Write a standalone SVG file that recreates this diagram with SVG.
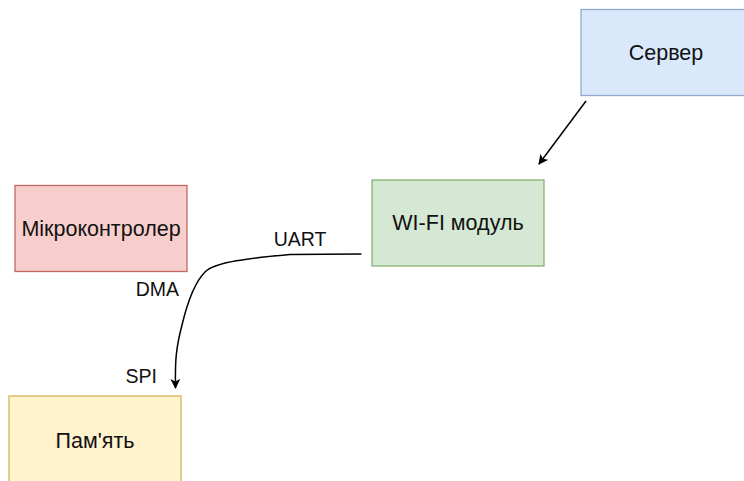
<svg xmlns="http://www.w3.org/2000/svg" width="744" height="481" viewBox="0 0 744 481">
  <style>
    .box { stroke-width: 1.3; }
    .label { font-family: "Liberation Sans", Arial, sans-serif; font-size: 21.5px; fill: #111; text-anchor: middle; dominant-baseline: central; }
    .edge-label { font-family: "Liberation Sans", Arial, sans-serif; font-size: 19.5px; fill: #111; }
    .edge { fill: none; stroke: #000; stroke-width: 1.5; }
  </style>
  <defs>
    <marker id="arrow" viewBox="0 0 10 10" refX="9" refY="5" markerWidth="10" markerHeight="10" markerUnits="userSpaceOnUse" orient="auto">
      <path d="M0,0 L10,5 L0,10 L2.5,5 Z" fill="#000"/>
    </marker>
  </defs>
  <rect width="744" height="481" fill="#fff"/>

  <g id="server">
    <rect class="box" x="581" y="9.5" width="170" height="86" fill="#dae8fc" stroke="#8fa9d1"/>
    <text class="label" x="666" y="53">Сервер</text>
  </g>

  <g id="mcu">
    <rect class="box" x="15" y="185.5" width="172" height="86" fill="#f8cecc" stroke="#c06665"/>
    <text class="label" x="101" y="229">Мікроконтролер</text>
  </g>

  <g id="wifi">
    <rect class="box" x="372" y="180" width="172" height="86" fill="#d5e8d4" stroke="#86b36f"/>
    <text class="label" x="458" y="223">WI-FI модуль</text>
  </g>

  <g id="memory">
    <rect class="box" x="9" y="396" width="172" height="90" fill="#fff2cc" stroke="#d6b656"/>
    <text class="label" x="95" y="441">Пам'ять</text>
  </g>

  <g id="connectors">
    <path class="edge" d="M586,101 L539,164" marker-end="url(#arrow)"/>
    <path class="edge" d="M361.5,254 L290,254.5 C250,258 215,262 205,272 C195,282 188,300 182,325 C176,348 175,360 175.5,388" marker-end="url(#arrow)"/>
    <text class="edge-label" x="300" y="246" text-anchor="middle">UART</text>
    <text class="edge-label" x="179" y="296" text-anchor="end">DMA</text>
    <text class="edge-label" x="157" y="383" text-anchor="end">SPI</text>
  </g>
</svg>
